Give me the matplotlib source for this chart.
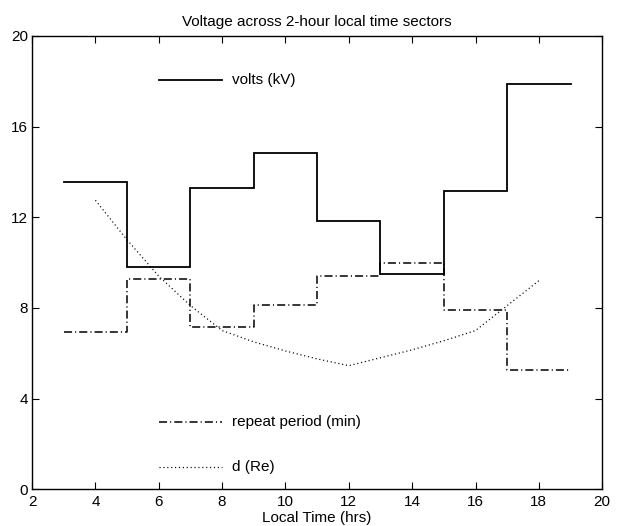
import matplotlib
matplotlib.use("Agg")
import matplotlib.pyplot as plt
import numpy as np

plt.rcParams['font.family'] = ['Liberation Sans', 'DejaVu Sans']
plt.rcParams['lines.scale_dashes'] = False

# Sector edges (local time, hrs)
sector_edges = [3, 5, 7, 9, 11, 13, 15, 17, 19]
volts_kV = [13.57, 9.79, 13.28, 14.83, 11.82, 9.51, 13.17, 17.88]
repeat_period_min = [6.95, 9.26, 7.14, 8.12, 9.40, 9.97, 7.90, 5.25]

d_hours = [4, 5, 6, 7, 8, 9, 10, 11, 12, 13, 14, 15, 16, 17, 18]
d_Re = [12.75, 11.0, 9.4, 8.1, 7.0, 6.5, 6.1, 5.75, 5.45, 5.8, 6.15, 6.55, 7.0, 8.1, 9.2]

title = "Voltage across 2-hour local time sectors"
xlabel = "Local Time (hrs)"
labels = ["volts (kV)", "repeat period (min)", "d (Re)"]
xticks = [2, 4, 6, 8, 10, 12, 14, 16, 18, 20]
yticks = [0, 4, 8, 12, 16, 20]

dashdot = (0, (5.8, 2.2, 0.8, 2.2))
dotted = (0, (0.8, 2.0))

fig = plt.figure(figsize=(6.17, 5.26), dpi=100)
ax = fig.add_axes([0.052, 0.07, 0.924, 0.8616])

def step_xy(edges, vals):
    xs, ys = [], []
    for i, v in enumerate(vals):
        xs += [edges[i], edges[i + 1]]
        ys += [v, v]
    return xs, ys

xv, yv = step_xy(sector_edges, volts_kV)
ax.plot(xv, yv, color='black', lw=1.3, solid_joinstyle='miter')
xr, yr = step_xy(sector_edges, repeat_period_min)
ax.plot(xr, yr, color='black', lw=1.1, linestyle=dashdot)
ax.plot(d_hours, d_Re, color='black', lw=0.9, linestyle=dotted)

# in-axes legend (MATLAB style)
legend_y = [18.05, 2.98, 0.99]
styles = [dict(lw=1.3, linestyle='-'), dict(lw=1.1, linestyle=dashdot), dict(lw=0.9, linestyle=dotted)]
for ly, lab, st in zip(legend_y, labels, styles):
    ax.plot([6, 8], [ly, ly], color='black', **st)
    ax.text(8.3, ly, lab, fontsize=11, va='center', ha='left')

ax.set_xlim(2, 20)
ax.set_ylim(0, 20)
ax.set_xticks(xticks)
ax.set_yticks(yticks)
ax.tick_params(direction='in', top=True, right=True, length=5, width=0.8, labelsize=11)
ax.tick_params(axis='x', pad=4.5)
ax.tick_params(axis='y', pad=3)
for s in ax.spines.values():
    s.set_linewidth(1.0)
ax.set_title(title, fontsize=11, pad=7)
ax.set_xlabel(xlabel, fontsize=11, labelpad=1)

fig.savefig("out.png", dpi=100)
